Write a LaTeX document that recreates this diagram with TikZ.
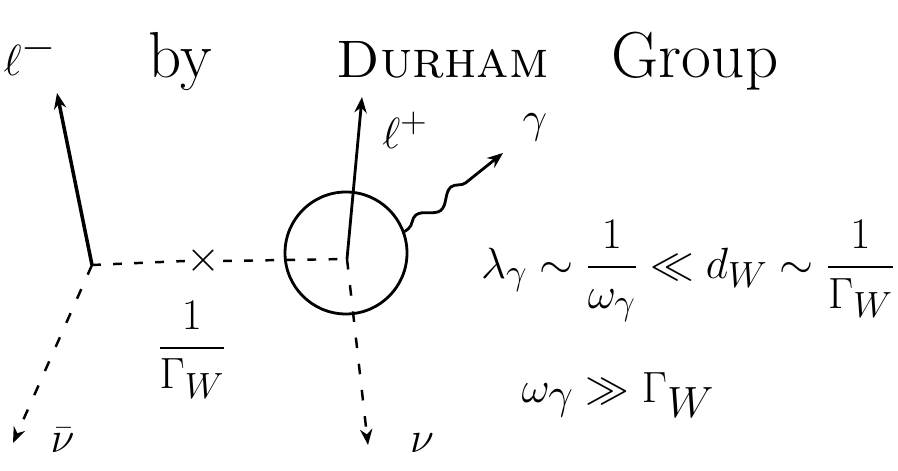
\documentclass[tikz,border=0pt]{standalone}
\usepackage{amsmath}
\usepackage{amssymb}
\usepackage{tikz}
\usetikzlibrary{arrows.meta,positioning,calc,decorations.pathmorphing}

\begin{document}
\begin{tikzpicture}[
      font=\fontsize{30}{34}\selectfont,
      >={Stealth[length=9pt,width=7pt]},
      lepton/.style={->, line width=1.6pt},
      neutrino/.style={->, line width=1.4pt, dash pattern=on 6pt off 9pt},
      wline/.style={line width=1.4pt, dash pattern=on 5pt off 7pt},
      photon/.style={->, line width=1.6pt, decorate,
                     decoration={snake, amplitude=1.2mm, segment length=9mm,
                                 pre length=1mm, post length=9mm}},
      lbl/.style={inner sep=1pt},
      big/.style={lbl, font=\fontsize{37}{40}\selectfont},
    ]
    \useasboundingbox (0,0) rectangle (17.96,9.42);

    % --- title ----------------------------------------------------------------------
    \node[big, anchor=base] (by) at (3.6,7.86) {by};
    \node[lbl, anchor=base] (durham) at (8.85,7.86) {\textsc{Durham}};
    \node[big, anchor=base] (group) at (13.9,7.86) {Group};

    % --- vertices: W emission, W propagator, radiating blob --------------------------
    \coordinate (vw) at (1.84,4.12);
    \coordinate (prop) at (4.08,4.20);
    \coordinate (vdec) at (6.94,4.24);
    \node[draw, circle, line width=1.6pt, minimum size=2.44cm] (blob) at (6.92,4.36) {};
    \node[lbl, font=\fontsize{36}{36}\selectfont] (cross) at (prop) {$\times$};

    \draw[wline] (vw) -- (cross.west);
    \draw[wline] (cross.east) -- (vdec);

    % --- outgoing particles ---------------------------------------------------------
    \coordinate (lmtip) at (1.14,7.56);
    \coordinate (lptip) at (7.24,7.48);
    \coordinate (nbtip) at (0.26,0.56);
    \coordinate (nutip) at (7.36,0.52);
    \coordinate (gtip) at (10.06,6.36);

    \draw[lepton, line width=2pt] (vw) -- (lmtip);
    \draw[lepton] (vdec) -- (lptip);
    \draw[neutrino] (vw) -- (nbtip);
    \draw[neutrino] (vdec) -- (nutip);
    \draw[photon] (blob.20) -- (gtip);

    \node[big] (lminus) at (0.6,8.32) {$\ell^-$};
    \node[lbl] (lplus) at (8.1,6.82) {$\ell^+$};
    \node[big] (gam) at (10.7,6.88) {$\gamma$};
    \node[lbl] (nubar) at (1.25,0.62) {$\bar\nu$};
    \node[lbl] (nu) at (8.44,0.56) {$\nu$};
    \node[lbl] (width) at (3.84,2.42) {$\dfrac{1}{\Gamma_W}$};

    % --- scales ---------------------------------------------------------------------
    \node[lbl] (scales) at (13.76,4.0)
      {$\lambda_\gamma \sim \dfrac{1}{\omega_\gamma} \ll d_W \sim \dfrac{1}{\Gamma_W}$};
    \node[big] (hierarchy) at (12.36,1.52) {$\omega_\gamma \gg \Gamma_W$};
  \end{tikzpicture}
\end{document}
